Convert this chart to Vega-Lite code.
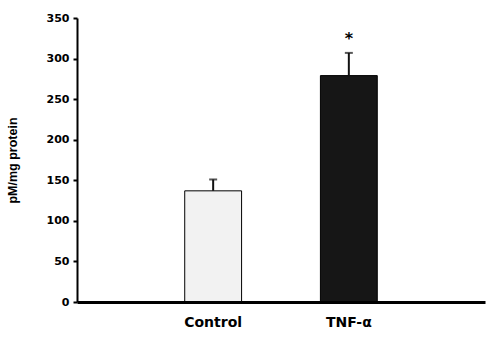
{
  "$schema": "https://vega.github.io/schema/vega-lite/v6.json",
  "width": 408,
  "height": 284,
  "autosize": {"type": "none"},
  "padding": {"left": 77, "top": 18, "right": 15, "bottom": 44},
  "background": "white",
  "config": {"view": {"stroke": null}},
  "data": {"values": [
    {"group": "Control", "value": 137, "upper": 151, "sig": ""},
    {"group": "TNF-α", "value": 279, "upper": 307, "sig": "*"}
  ]},
  "encoding": {
    "x": {
      "field": "group", "type": "nominal", "sort": null,
      "scale": {"paddingInner": 0.581, "paddingOuter": 0.794},
      "axis": {
        "title": null, "labelAngle": 0, "ticks": false, "labelPadding": 13,
        "labelFont": "DejaVu Sans", "labelFontWeight": "bold", "labelFontSize": 14,
        "labelColor": "black", "domainColor": "black", "domainWidth": 3, "zindex": 1
      }
    }
  },
  "layer": [
    {
      "mark": {"type": "bar", "stroke": "black", "strokeWidth": 1},
      "encoding": {
        "y": {
          "field": "value", "type": "quantitative",
          "scale": {"domain": [0, 350], "nice": false},
          "axis": {
            "title": "pM/mg protein", "values": [0, 50, 100, 150, 200, 250, 300, 350],
            "grid": false, "domainColor": "black", "domainWidth": 2,
            "tickColor": "black", "tickWidth": 2, "tickSize": 4,
            "labelFont": "DejaVu Sans", "labelFontWeight": "bold", "labelFontSize": 11,
            "labelColor": "black", "labelPadding": 4,
            "titleFont": "Liberation Sans", "titleFontWeight": "bold", "titleFontSize": 12.5,
            "titleColor": "black", "titlePadding": 27
          }
        },
        "fill": {
          "field": "group", "type": "nominal",
          "scale": {"domain": ["Control", "TNF-α"], "range": ["#f2f2f2", "#161616"]},
          "legend": null
        }
      }
    },
    {
      "mark": {"type": "rule", "color": "#111", "strokeWidth": 2},
      "encoding": {
        "y": {"field": "value", "type": "quantitative"},
        "y2": {"field": "upper"}
      }
    },
    {
      "mark": {"type": "tick", "color": "#111", "size": 8, "thickness": 2},
      "encoding": {
        "y": {"field": "upper", "type": "quantitative"}
      }
    },
    {
      "mark": {"type": "text", "font": "DejaVu Sans", "fontWeight": "bold", "fontSize": 16, "baseline": "middle", "color": "black"},
      "encoding": {
        "y": {"field": "upper", "type": "quantitative"},
        "text": {"field": "sig"},
        "yOffset": {"value": -14}
      }
    }
  ]
}
